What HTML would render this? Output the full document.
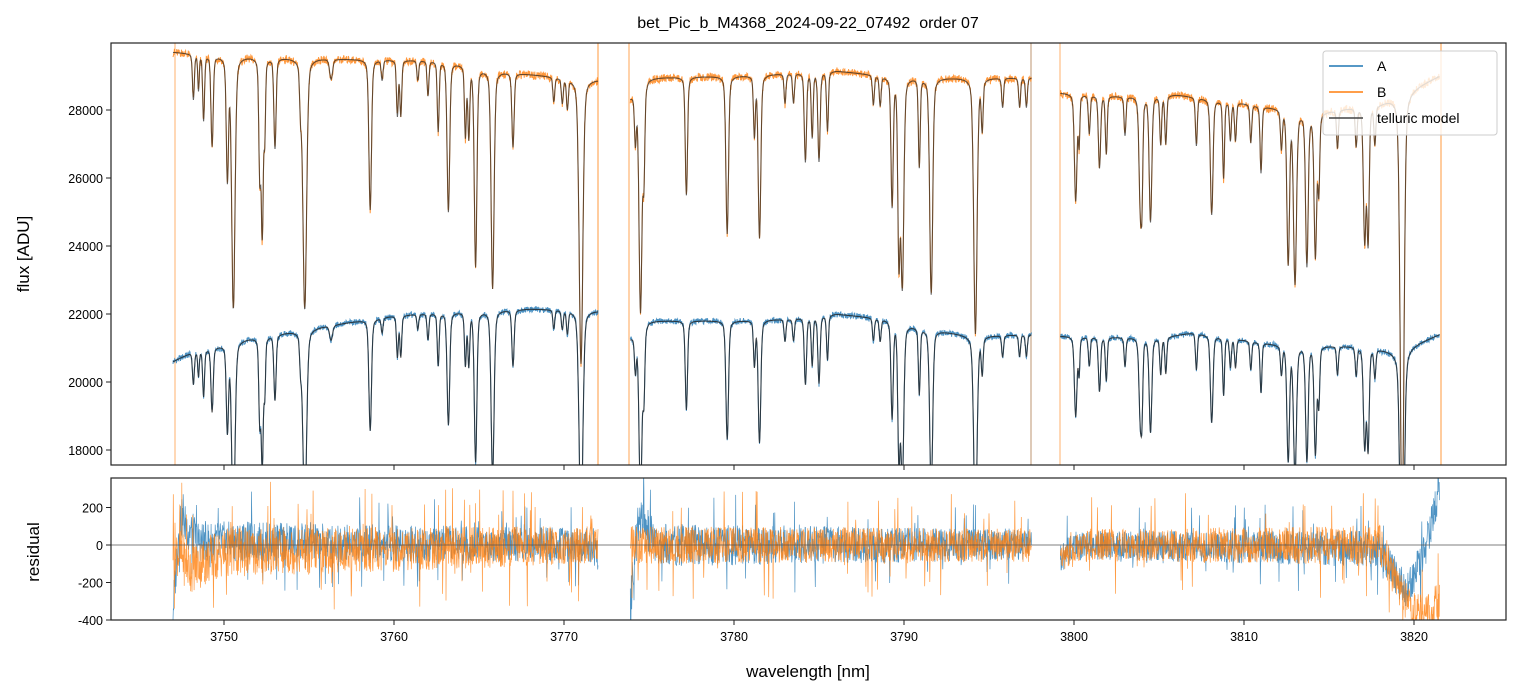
<!DOCTYPE html>
<html><head><meta charset="utf-8"><style>
html,body{margin:0;padding:0;background:#fff;}
svg{display:block;font-family:"Liberation Sans",sans-serif;}
</style></head><body>
<svg id="chart" width="1520" height="696" viewBox="0 0 1520 696">
<defs>
<clipPath id="clipTop"><rect x="111" y="43" width="1395" height="422"/></clipPath>
<clipPath id="clipBot"><rect x="111" y="478" width="1395" height="142"/></clipPath>
</defs>
<text x="808" y="28" text-anchor="middle" font-size="16" fill="#000" style="white-space:pre">bet_Pic_b_M4368_2024-09-22_07492  order 07</text>
<g id="topPlot" clip-path="url(#clipTop)"></g>
<g id="botPlot" clip-path="url(#clipBot)"></g>
<rect x="111" y="43" width="1395" height="422" fill="none" stroke="#222" stroke-width="1.2"/>
<rect x="111" y="478" width="1395" height="142" fill="none" stroke="#222" stroke-width="1.2"/>
<g id="axes"></g>
<text x="808" y="677" text-anchor="middle" font-size="17">wavelength [nm]</text>
<text transform="translate(29,254) rotate(-90)" text-anchor="middle" font-size="17">flux [ADU]</text>
<text transform="translate(39,552) rotate(-90)" text-anchor="middle" font-size="17">residual</text>
<g>
<rect x="1323" y="51" width="174" height="84" rx="3" fill="#fff" fill-opacity="0.8" stroke="#ccc"/>
<line x1="1329" y1="66" x2="1363" y2="66" stroke="#1f77b4" stroke-width="1.6"/>
<text x="1377" y="71" font-size="14">A</text>
<line x1="1329" y1="92" x2="1363" y2="92" stroke="#ff7f0e" stroke-width="1.6"/>
<text x="1377" y="97" font-size="14">B</text>
<line x1="1329" y1="118" x2="1363" y2="118" stroke="#444" stroke-width="1.6"/>
<text x="1377" y="123" font-size="14">telluric model</text>
</g>
</svg>
<script>
// ---- data ----
const segments = [[3747.0, 3772.0], [3773.9, 3797.5], [3799.2, 3821.5]];
const contB = [[3747.0,29700],[3750,29600],[3757,29500],[3763,29450],[3766,29150],[3770,28950],[3772,28900],
  [3773.9,28400],[3775,28950],[3780,29000],[3782,29050],[3786,29150],[3789,29000],[3792,28950],[3797.5,28950],
  [3799.2,28500],[3803,28400],[3806,28450],[3810,28200],[3814,27900],[3818,28200],[3821.5,29000]];
const contA = [[3747.0,20600],[3748,20850],[3751,21250],[3756,21650],[3760,21950],[3763,22050],[3768,22150],[3772,22100],
  [3773.9,21300],[3775,21800],[3780,21800],[3783,21850],[3786,22000],[3789,21850],[3791,21600],[3794,21350],[3797.5,21400],
  [3799.2,21350],[3805,21300],[3807,21450],[3812,21100],[3817,21050],[3819,20900],[3821.5,21400]];
const lineCenters = [3748.2,3748.5,3748.8,3749.3,3750.2,3750.55,3752.1,3752.25,3752.4,3753.0,3754.5,3754.75,3756.3,3758.6,3759.3,3760.2,3760.4,3761.4,3762.0,3762.6,3763.2,3764.2,3764.4,3764.8,3765.8,3767.0,3769.4,3769.9,3770.2,3771.0,
  3774.2,3774.5,3774.7,3777.2,3779.6,3781.2,3781.5,3783.0,3783.5,3784.2,3784.6,3785.0,3785.5,3788.2,3788.6,3789.3,3789.7,3789.9,3790.9,3791.6,3794.2,3794.6,3795.8,3796.8,3797.2,
  3800.1,3800.3,3800.9,3801.5,3801.9,3803.0,3803.9,3804.0,3804.5,3805.1,3805.4,3807.2,3808.1,3808.8,3809.2,3809.5,3810.4,3811.0,3812.2,3812.6,3813.0,3813.7,3814.2,3814.4,3815.5,3816.6,3817.1,3817.3,3817.7,3819.3];
const lineDepths = [0.045,0.035,0.065,0.09,0.12,0.25,0.11,0.175,0.07,0.09,0.04,0.25,0.02,0.15,0.02,0.055,0.055,0.02,0.035,0.07,0.15,0.07,0.07,0.2,0.22,0.075,0.025,0.025,0.03,0.29,
  0.05,0.23,0.09,0.12,0.16,0.06,0.165,0.03,0.03,0.09,0.065,0.09,0.06,0.03,0.03,0.13,0.18,0.21,0.09,0.22,0.26,0.05,0.03,0.03,0.03,
  0.11,0.05,0.04,0.075,0.06,0.04,0.11,0.08,0.13,0.05,0.05,0.05,0.12,0.08,0.04,0.04,0.04,0.07,0.04,0.16,0.18,0.16,0.15,0.08,0.04,0.04,0.14,0.14,0.04,0.45];
const lineWidths = [0.05,0.04,0.05,0.06,0.06,0.09,0.05,0.06,0.04,0.06,0.05,0.1,0.08,0.07,0.05,0.05,0.05,0.05,0.05,0.05,0.07,0.05,0.05,0.07,0.08,0.06,0.05,0.05,0.05,0.1,
  0.05,0.08,0.05,0.06,0.07,0.05,0.07,0.05,0.05,0.06,0.05,0.06,0.05,0.05,0.05,0.06,0.06,0.08,0.05,0.08,0.09,0.05,0.05,0.05,0.05,
  0.07,0.04,0.05,0.06,0.05,0.05,0.07,0.05,0.07,0.05,0.05,0.05,0.07,0.05,0.05,0.05,0.05,0.05,0.05,0.07,0.08,0.07,0.07,0.05,0.05,0.05,0.07,0.06,0.05,0.1];
const residBaseA = [[3747.0,-350],[3747.4,150],[3748.5,20],[3771.5,0],[3773.9,-300],[3774.4,150],[3775.5,0],[3797.5,0],[3799.2,-80],[3800,0],[3818,-20],[3819.5,-250],[3820.6,-50],[3821.5,300]];
const residBaseB = [[3747.0,0],[3748.0,-120],[3750,-40],[3771.5,0],[3773.9,0],[3797.5,0],[3799.2,-60],[3801,0],[3818,0],[3819.5,-300],[3820.6,-380],[3821.5,-300]];
const residAmpA = [[3747,110],[3772,90],[3774,120],[3797.5,80],[3799.2,75],[3821.5,100]];
const residAmpB = [[3747,140],[3772,100],[3774,100],[3797.5,90],[3799.2,85],[3821.5,110]];
const xTicks = [3750,3760,3770,3780,3790,3800,3810,3820];
const yTicks = [18000,20000,22000,24000,26000,28000];
const rTicks = [-400,-200,0,200];

// ---- scales ----
const X = w => 224 + (w - 3750) * 17;
const Y = f => 110 + (28000 - f) * 0.034;
const R = r => 545 - r * 0.1875;
const NS = 'http://www.w3.org/2000/svg';
function interp(knots, w){
  if (w <= knots[0][0]) return knots[0][1];
  for (let i=1;i<knots.length;i++){ if (w <= knots[i][0]){ const a=knots[i-1], b=knots[i]; return a[1] + (b[1]-a[1])*(w-a[0])/(b[0]-a[0]); } }
  return knots[knots.length-1][1];
}
function trans(w){
  let t = 1;
  for (let i=0;i<lineCenters.length;i++){
    const d=(w-lineCenters[i])/(lineWidths[i]*1.5);
    if (Math.abs(d)<30) t *= 1 - lineDepths[i]*(0.75*Math.exp(-d*d) + 0.25/(1+d*d));
  }
  return t;
}
// deterministic texture for pixel noise
function tex(i, s){ const v = Math.sin(i*12.9898 + s*78.233)*43758.5453; return (v - Math.floor(v))*2 - 1; }
function mk(tag, attrs, parent){ const e=document.createElementNS(NS,tag); for (const k in attrs) e.setAttribute(k, attrs[k]); parent.appendChild(e); return e; }
const gTop = document.getElementById('topPlot'), gBot = document.getElementById('botPlot'), gAx = document.getElementById('axes');

// vertical edge spikes
[[175,'#ff7f0e',0.6],[598,'#ff7f0e',0.8],[629,'#ff7f0e',0.7],[1031,'#1f77b4',0.6],[1031,'#ff7f0e',0.5],[1060,'#ff7f0e',0.6],[1441,'#ff7f0e',0.8]].forEach(v=>{
  const l = mk('line',{x1:v[0],x2:v[0],y1:43,y2:465,stroke:v[1],'stroke-width':1,'stroke-opacity':v[2]},gTop);
  
  
});

const step = 0.02;
let idx = 0;
segments.forEach((seg, si) => {
  let pA='', pB='', pM1='', pM2='', rA='', rB='';
  for (let w=seg[0]; w<=seg[1]+1e-9; w+=step, idx++){
    const t = trans(w);
    const mB = interp(contB,w)*t, mA = interp(contA,w)*t;
    const nA = tex(idx,1)*70*(1+0.5*Math.abs(tex(idx,5))), nB = tex(idx,2)*90*(1+0.6*Math.abs(tex(idx,6)));
    const x = X(w).toFixed(1);
    pA += (pA?'L':'M') + x + ',' + Y(mA+nA).toFixed(1);
    pB += (pB?'L':'M') + x + ',' + Y(mB+nB).toFixed(1);
    pM1 += (pM1?'L':'M') + x + ',' + Y(mA).toFixed(1);
    pM2 += (pM2?'L':'M') + x + ',' + Y(mB).toFixed(1);
    const ra = interp(residBaseA,w) + tex(idx,3)*interp(residAmpA,w)*(Math.abs(tex(idx,7))>0.94?2.6:1);
    const rb = interp(residBaseB,w) + tex(idx,4)*interp(residAmpB,w)*(Math.abs(tex(idx,8))>0.94?3:1);
    rA += (rA?'L':'M') + x + ',' + R(ra).toFixed(1);
    rB += (rB?'L':'M') + x + ',' + R(rb).toFixed(1);
  }
  let e;
  e = mk('path',{d:pA,fill:'none',stroke:'#1f77b4','stroke-width':1,'stroke-opacity':0.8},gTop);
  
  
  e = mk('path',{d:pB,fill:'none',stroke:'#ff7f0e','stroke-width':1,'stroke-opacity':0.8},gTop);
  
  
  e = mk('path',{d:pM1,fill:'none',stroke:'#222','stroke-width':1.1,'stroke-opacity':0.8},gTop);
  
  
  e = mk('path',{d:pM2,fill:'none',stroke:'#222','stroke-width':1.1,'stroke-opacity':0.7},gTop);
  
  
  e = mk('path',{d:rA,fill:'none',stroke:'#1f77b4','stroke-width':0.7,'stroke-opacity':0.8},gBot);
  
  
  e = mk('path',{d:rB,fill:'none',stroke:'#ff7f0e','stroke-width':0.7,'stroke-opacity':0.8},gBot);
  
  
});
let z = mk('line',{x1:111,x2:1506,y1:R(0),y2:R(0),stroke:'#555','stroke-width':0.7},gBot);



// ticks
xTicks.forEach(v=>{
  const x = X(v);
  let t = mk('line',{x1:x,x2:x,y1:465,y2:470,stroke:'#222','stroke-width':1},gAx);
  
  
  t = mk('line',{x1:x,x2:x,y1:620,y2:625,stroke:'#222','stroke-width':1},gAx);
  
  
  const l = mk('text',{x:x,y:641,'text-anchor':'middle','font-size':12.5},gAx);
  l.textContent = v;
  
  
});
yTicks.forEach(v=>{
  const y = Y(v);
  let t = mk('line',{x1:106,x2:111,y1:y,y2:y,stroke:'#222','stroke-width':1},gAx);
  
  
  const l = mk('text',{x:103,y:y+5,'text-anchor':'end','font-size':12.5},gAx);
  l.textContent = v;
  
  
});
rTicks.forEach(v=>{
  const y = R(v);
  let t = mk('line',{x1:106,x2:111,y1:y,y2:y,stroke:'#222','stroke-width':1},gAx);
  
  
  const l = mk('text',{x:103,y:y+5,'text-anchor':'end','font-size':12.5},gAx);
  l.textContent = v;
  
  
});
</script>
</body></html>
